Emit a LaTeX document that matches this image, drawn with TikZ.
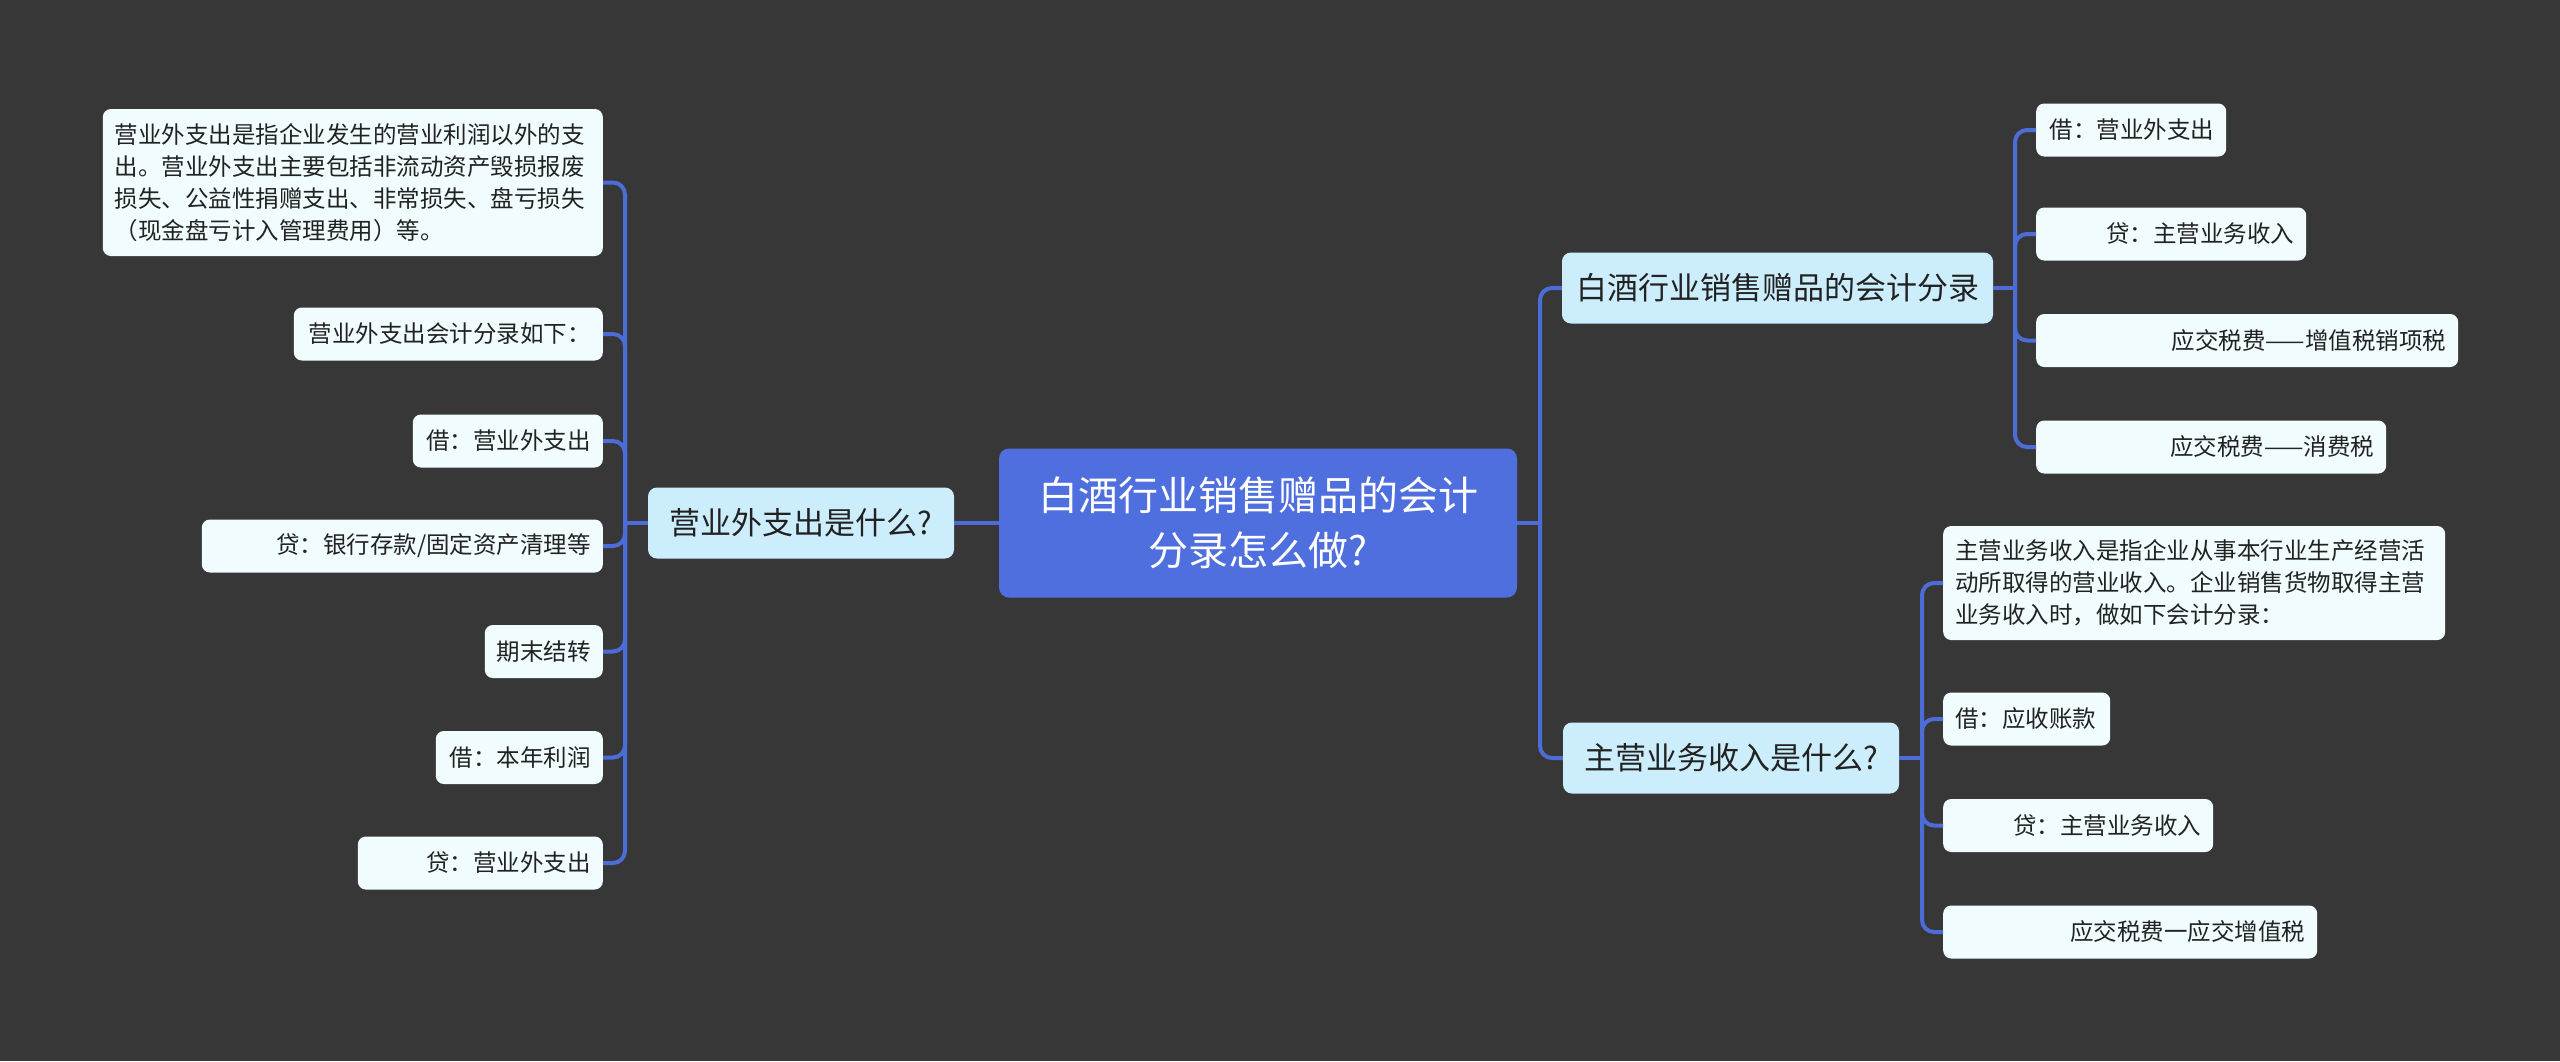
\documentclass[tikz,border=0pt]{standalone}
\usepackage{fontspec}
\setmainfont{Noto Sans CJK SC}
\definecolor{bg}{RGB}{56,55,56}
\definecolor{leaffill}{RGB}{240,252,253}
\definecolor{mainfill}{RGB}{204,238,252}
\definecolor{rootfill}{RGB}{79,111,222}
\definecolor{linec}{RGB}{76,108,216}
\definecolor{txt}{RGB}{34,34,34}
\begin{document}
\begin{tikzpicture}[x=1pt,y=-1pt,
  leaf/.style={fill=leaffill, rounded corners=8pt, inner xsep=12pt, inner ysep=0pt,
    minimum height=53pt, font=\fontsize{23.5}{31.8}\selectfont, text=txt, align=right},
  mainbox/.style={fill=mainfill, rounded corners=9pt, inner xsep=14pt, inner ysep=0pt,
    minimum height=71pt, font=\fontsize{31}{38}\selectfont, text=txt, align=center},
  rootbox/.style={fill=rootfill, rounded corners=10pt, inner sep=0pt,
    minimum width=518pt, minimum height=149pt, font=\fontsize{40}{55}\selectfont, text=white, align=center},
  conn/.style={draw=linec, line width=4pt, rounded corners=12pt}]
\fill[bg] (0,0) rectangle (2560,1061);
\useasboundingbox (0,0) rectangle (2560,1061);

% root and main nodes
\node[rootbox] (C) at (1258,523) {白酒行业销售赠品的会计\\分录怎么做?};
\node[mainbox, minimum width=306pt] (L) at (801,523) {营业外支出是什么?};
\node[mainbox, minimum width=429pt] (R1) at (1777.5,288) {白酒行业销售赠品的会计分录};
\node[mainbox, minimum width=336pt] (R2) at (1731,758) {主营业务收入是什么?};

% left leaves
\node[leaf, anchor=east, text width=476pt, minimum height=147pt, align=left] (l1) at (603,182.5)
  {营业外支出是指企业发生的营业利润以外的支\\出。营业外支出主要包括非流动资产毁损报废\\损失、公益性捐赠支出、非常损失、盘亏损失\\（现金盘亏计入管理费用）等。};
\node[leaf, anchor=east, text width=285pt] (l2) at (603,334) {营业外支出会计分录如下：};
\node[leaf, anchor=east, text width=166pt] (l3) at (603,441) {借：营业外支出};
\node[leaf, anchor=east, text width=377pt] (l4) at (603,546) {贷：银行存款/固定资产清理等};
\node[leaf, anchor=east, text width=94pt] (l5) at (603,651.5) {期末结转};
\node[leaf, anchor=east, text width=143pt] (l6) at (603,757.5) {借：本年利润};
\node[leaf, anchor=east, text width=221pt] (l7) at (603,863) {贷：营业外支出};

% right leaves, group 1
\node[leaf, anchor=west, text width=166pt] (a) at (2036,130) {借：营业外支出};
\node[leaf, anchor=west, text width=246pt] (b) at (2036,234) {贷：主营业务收入};
\node[leaf, anchor=west, text width=398pt] (c) at (2036,340.5) {应交税费——增值税销项税};
\node[leaf, anchor=west, text width=326pt] (d) at (2036,447) {应交税费——消费税};

% right leaves, group 2
\node[leaf, anchor=west, text width=478pt, minimum height=114pt, align=left] (e) at (1943,583)
  {主营业务收入是指企业从事本行业生产经营活\\动所取得的营业收入。企业销售货物取得主营\\业务收入时，做如下会计分录：};
\node[leaf, anchor=west, text width=143pt, align=left] (f) at (1943,719) {借：应收账款};
\node[leaf, anchor=west, text width=246pt] (g) at (1943,825.5) {贷：主营业务收入};
\node[leaf, anchor=west, text width=350pt] (h) at (1943,932) {应交税费一应交增值税};

% trunks
\coordinate (tl) at (625,523);
\coordinate (tc) at (1540,523);
\coordinate (t1) at (2015,288);
\coordinate (t2) at (1922,758);

% connectors
\draw[conn] (C.west) -- (L.east);
\draw[conn] (L.west) -- (tl);
\foreach \n in {l1,l2,l3,l4,l5,l6,l7} \draw[conn] (tl) |- (\n.east);
\draw[conn] (C.east) -- (tc);
\foreach \n in {R1,R2} \draw[conn] (tc) |- (\n.west);
\draw[conn] (R1.east) -- (t1);
\foreach \n in {a,b,c,d} \draw[conn] (t1) |- (\n.west);
\draw[conn] (R2.east) -- (t2);
\foreach \n in {e,f,g,h} \draw[conn] (t2) |- (\n.west);
\end{tikzpicture}
\end{document}
